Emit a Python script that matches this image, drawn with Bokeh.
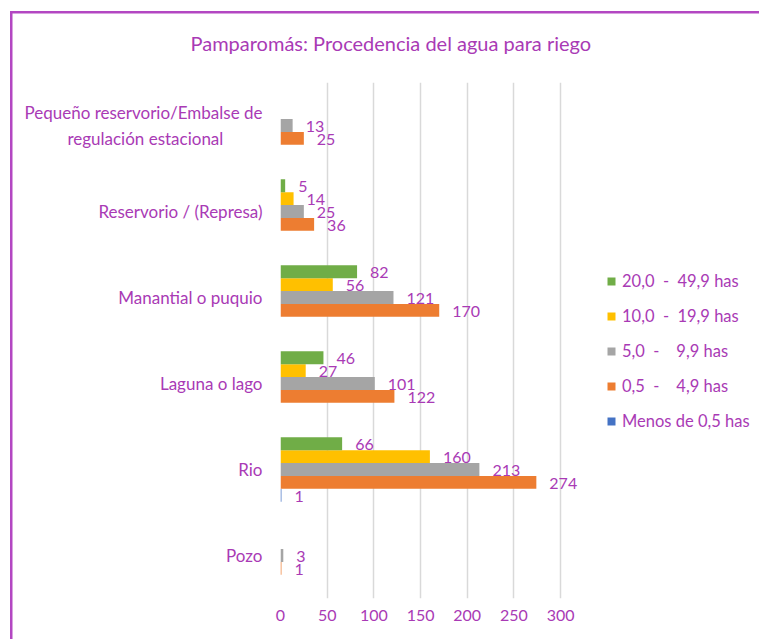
from bokeh.plotting import figure
from bokeh.models import (FactorRange, ColumnDataSource, Legend, LegendItem,
                          FixedTicker, Range1d)
from bokeh.transform import dodge
from bokeh.embed import file_html
from bokeh.resources import INLINE
from bokeh.core.properties import value

# ---- data (bottom to top, as in the chart) ----
NB = "\u00a0"
categories = ["Pozo", "Rio", "Laguna o lago", "Manantial o puquio",
              "Reservorio / (Represa)",
              "Pequeño reservorio/Embalse de\nregulación estacional" + NB * 9]
series_labels = ["Menos de 0,5 has",
                 "0,5 " + NB + "- " + NB + " " + NB + "4,9 has",
                 "5,0 " + NB + "- " + NB + " " + NB + "9,9 has",
                 "10,0 " + NB + "- " + NB + "19,9 has",
                 "20,0 " + NB + "- " + NB + "49,9 has"]
menos_0_5 = [0, 1, 0, 0, 0, 0]
ha_0_5_4_9 = [1, 274, 122, 170, 36, 25]
ha_5_0_9_9 = [3, 213, 101, 121, 25, 13]
ha_10_0_19_9 = [0, 160, 27, 56, 14, 0]
ha_20_0_49_9 = [0, 66, 46, 82, 5, 0]
x_ticks = [0, 50, 100, 150, 200, 250, 300]

series_values = [menos_0_5, ha_0_5_4_9, ha_5_0_9_9, ha_10_0_19_9, ha_20_0_49_9]
colors = ["#4472C4", "#ED7D31", "#A5A5A5", "#FFC000", "#70AD47"]
offsets = [-0.3, -0.15, 0.0, 0.15, 0.3]

PURPLE = "#A93AB5"
BORDER = "#B347C2"
FONT = "Lato"

p = figure(width=759, height=639, output_backend="svg", toolbar_location=None,
           y_range=FactorRange(factors=categories, range_padding=0),
           x_range=Range1d(0, 513),
           min_border_left=280, min_border_right=0, min_border_top=82, min_border_bottom=41)
p.outline_line_color = None
p.background_fill_color = None
p.border_fill_color = None
p.styles = {
    "background-color": "white",
    "background-image": f"linear-gradient({BORDER},{BORDER}), linear-gradient({BORDER},{BORDER})",
    "background-size": "2.5px 100%, 100% 2.5px",
    "background-position": "9.5px 11px, 9.5px 11px",
    "background-repeat": "no-repeat",
}

renderers = []
for vals, col, off in zip(series_values, colors, offsets):
    src = ColumnDataSource(dict(cat=categories, v=vals))
    r = p.hbar(y=dodge("cat", off, range=p.y_range), right="v", left=0, height=0.15,
               source=src, fill_color=col, line_color=None)
    renderers.append(r)
    nz = [i for i, v in enumerate(vals) if v != 0]
    lsrc = ColumnDataSource(dict(cat=[categories[i] for i in nz], v=[vals[i] for i in nz],
                                 t=[str(vals[i]) for i in nz]))
    p.text(x="v", y=dodge("cat", off, range=p.y_range), text="t", source=lsrc,
           x_offset=13, y_offset=1, text_align="left", text_baseline="middle",
           text_font=value(FONT), text_font_size="16px", text_color=PURPLE)

# axes
p.xaxis.ticker = FixedTicker(ticks=x_ticks)
p.xaxis.axis_line_color = None
p.xaxis.major_tick_line_color = None
p.xaxis.minor_tick_line_color = None
p.xaxis.major_tick_out = 0
p.xaxis.minor_tick_out = 0
p.xaxis.major_label_standoff = 11
p.xaxis.major_label_text_font = FONT
p.xaxis.major_label_text_font_size = "16px"
p.xaxis.major_label_text_color = PURPLE

p.yaxis.axis_line_color = None
p.yaxis.major_tick_line_color = None
p.yaxis.major_tick_out = 0
p.yaxis.major_label_standoff = 18
p.yaxis.major_label_text_font = FONT
p.yaxis.major_label_text_font_size = "17px"
p.yaxis.major_label_text_color = PURPLE

p.ygrid.grid_line_color = None
p.xgrid.grid_line_color = "#D9D9D9"
p.xgrid.grid_line_width = 1.5

# title
p.title.text = "Pamparomás: Procedencia del agua para riego"
p.title.align = "left"
p.title.offset = -90
p.title.standoff = 56
p.title.text_font = FONT
p.title.text_font_style = "normal"
p.title.text_font_size = "20px"
p.title.text_color = PURPLE

# legend (top to bottom: green, yellow, gray, orange, blue)
items = [LegendItem(label=series_labels[i], renderers=[renderers[i]]) for i in [4, 3, 2, 1, 0]]
legend = Legend(items=items, location=(326, 167), orientation="vertical",
                border_line_color=None, background_fill_alpha=0, padding=0, margin=0,
                glyph_width=10, glyph_height=10, label_height=20, spacing=15,
                label_standoff=6, label_text_font=FONT, label_text_font_size="16.5px",
                label_text_color=PURPLE)
p.add_layout(legend)

open("out.html", "w").write(file_html(p, INLINE))
